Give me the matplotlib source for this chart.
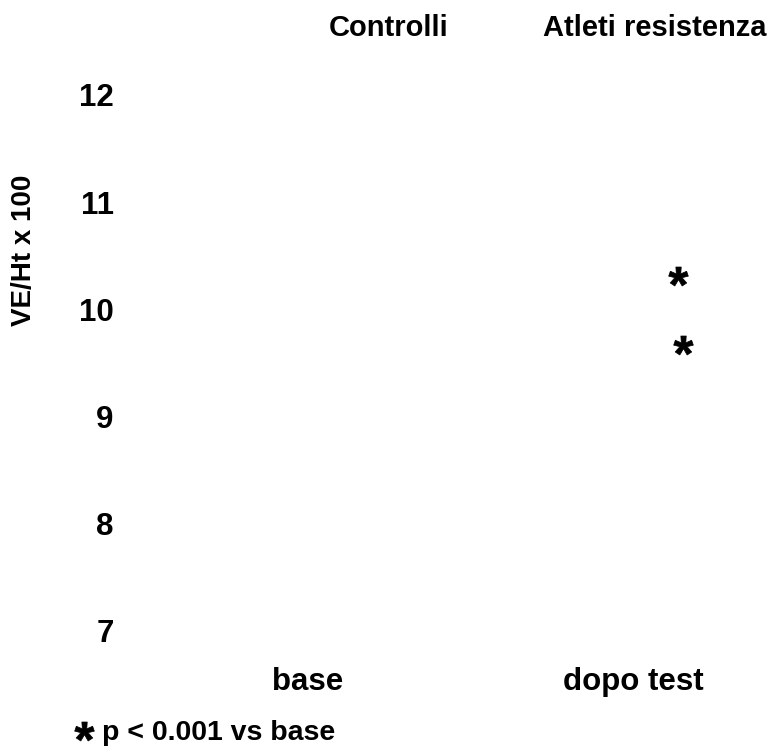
import matplotlib
matplotlib.use("Agg")
import matplotlib.pyplot as plt
from matplotlib.font_manager import FontProperties
from matplotlib.textpath import TextPath
from matplotlib.path import Path

# dati
gruppi = ["Controlli", "Atleti resistenza"]
tempi = ["base", "dopo test"]
y_ticks = [7, 8, 9, 10, 11, 12]
# asterischi di significatività (posizione x sulla scala dei tempi, valore)
sig_x = [1.138, 1.154]
sig_y = [10.31, 9.66]

FONT = ["Liberation Sans", "DejaVu Sans"]
plt.rcParams["font.family"] = FONT
plt.rcParams["font.weight"] = "bold"

# asterisco in grassetto (stile Arial) come marker
fp = FontProperties(family="Liberation Sans", weight="bold")
tp = TextPath((0, 0), "*", size=10, prop=fp)
verts = tp.vertices.copy()
codes = tp.codes
ext = tp.get_extents()
cx, cy = (ext.x0 + ext.x1) / 2, (ext.y0 + ext.y1) / 2
verts[codes == Path.CLOSEPOLY] = (cx, cy)
verts = verts - (cx, cy)
star = Path(verts, codes)

fig = plt.figure(figsize=(7.74, 7.52), dpi=100)
W, H = 774, 752
# assi in pixel: left 140, right 760, top 60, bottom 660
ax = fig.add_axes([140 / W, 1 - 660 / H, 620 / W, 600 / H])
ax.set_xlim(-0.517, 1.391)
ax.set_ylim(6.72, 12.327)
for s in ax.spines.values():
    s.set_visible(False)

ax.set_xticks(range(len(tempi)))
ax.set_xticklabels(tempi, fontweight="bold", fontsize=22.5)
ax.set_yticks(y_ticks)
ax.set_yticklabels([str(v) for v in y_ticks], fontweight="bold", fontsize=22.5)
ax.tick_params(axis="y", length=0, pad=19)
ax.tick_params(axis="x", length=0, pad=5)

ax.set_ylabel("VE/Ht x 100", fontweight="bold", fontsize=20)
ax.yaxis.set_label_coords(-0.166, 0.683)

ax.scatter(sig_x, sig_y, marker=star, s=200, color="black", linewidths=0.5,
           edgecolors="black")

# intestazioni dei gruppi
for gx, g in zip([389 / W, 655 / W], gruppi):
    fig.text(gx, 1 - 28 / H, g, ha="center", va="center",
             fontweight="bold", fontsize=21)

# nota a piè di pagina
ax.scatter([84 / W], [1 - 731 / H], marker=star, s=200, color="black",
           linewidths=0.5, edgecolors="black", transform=fig.transFigure,
           clip_on=False)
fig.text(102 / W, 1 - 733 / H, "p < 0.001 vs base", ha="left", va="center",
         fontweight="bold", fontsize=20.5)

fig.savefig("out.png", dpi=100)
